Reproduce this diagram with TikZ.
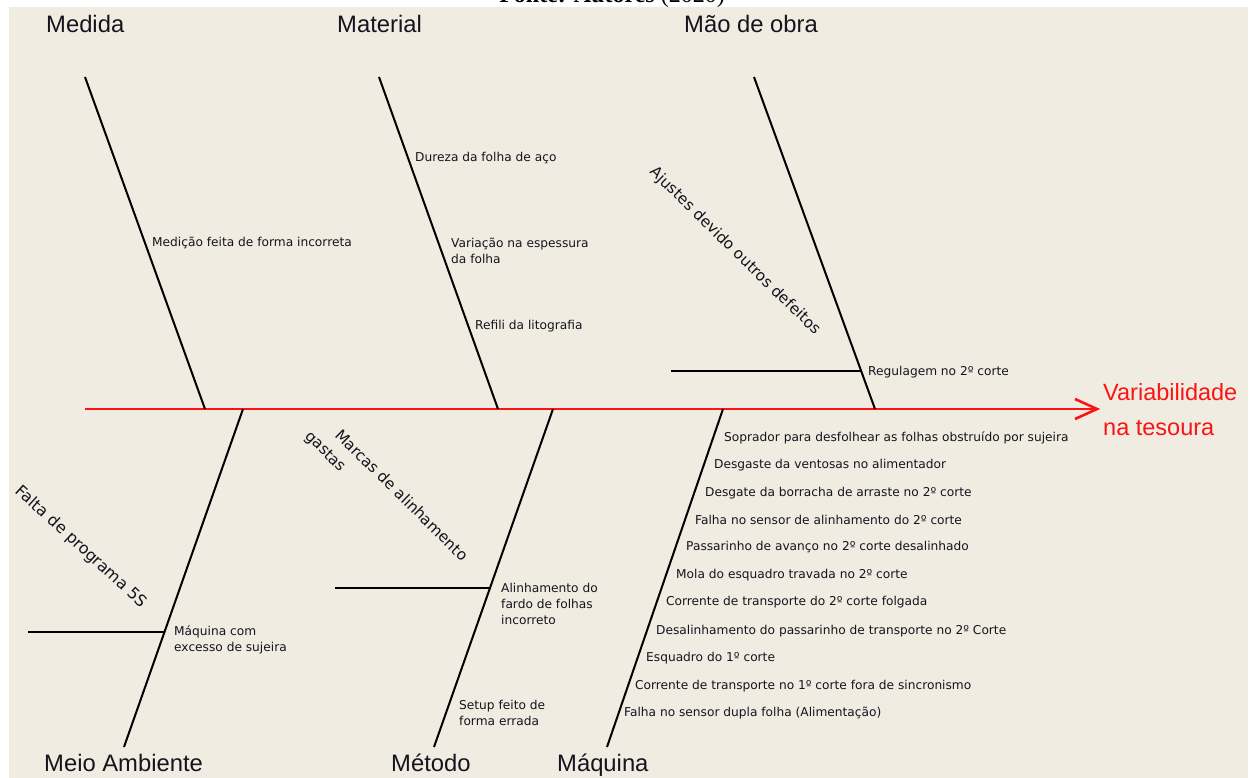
\documentclass[tikz,border=0pt]{standalone}
\usepackage{fontspec}
\setmainfont{DejaVu Sans}
\newfontfamily\serifx{Liberation Serif}
\newfontfamily\headfont{Liberation Sans}
\definecolor{bgc}{RGB}{240,236,226}
\definecolor{ink}{RGB}{20,20,30}
\definecolor{spinered}{RGB}{250,20,20}
\tikzset{
  bone/.style={line width=2pt, black},
  spine/.style={line width=2.6pt, spinered},
  head/.style={font=\headfont\fontsize{23.8}{28}\selectfont, anchor=base west, inner sep=0, text=ink},
  effect/.style={font=\headfont\fontsize{23.5}{35}\selectfont, anchor=west, inner sep=0, text=spinered, align=left},
  cause/.style={font=\fontsize{12.2}{16}\selectfont, anchor=west, inner sep=0, align=left, text=ink},
  rotcause/.style={font=\fontsize{15.3}{18}\selectfont, inner sep=0, text=ink},
}
\begin{document}
\begin{tikzpicture}[x=1pt,y=-1pt]
\useasboundingbox (0,0) rectangle (1257,778);
\fill[white] (0,0) rectangle (1257,778);
\fill[bgc] (9,7) rectangle (1248,778);
\node[anchor=base, inner sep=0, font=\serifx\fontsize{24}{28}\selectfont] (fonte) at (612,3) {\textbf{Fonte: Autores} (2020)};

% spine
\coordinate (tail) at (85,409);
\coordinate (tip) at (1097,409);
\coordinate (barbA) at (1075,399);
\coordinate (barbB) at (1075,419);
\draw[spine] (tail) -- (tip);
\draw[spine, line join=miter] (barbA) -- (tip) -- (barbB);

% bones
\coordinate (medT) at (85,77);   \coordinate (medB) at (205,409);
\coordinate (matT) at (379,77);  \coordinate (matB) at (498,409);
\coordinate (maoT) at (754,77);  \coordinate (maoB) at (875,409);
\coordinate (meiT) at (243,409); \coordinate (meiB) at (124,747);
\coordinate (metT) at (553,409); \coordinate (metB) at (434,747);
\coordinate (maqT) at (723,409); \coordinate (maqB) at (607,747);
\draw[bone] (medT) -- (medB);
\draw[bone] (matT) -- (matB);
\draw[bone] (maoT) -- (maoB);
\draw[bone] (meiT) -- (meiB);
\draw[bone] (metT) -- (metB);
\draw[bone] (maqT) -- (maqB);

% sub-branches
\coordinate (regL) at (671,371); \coordinate (regR) at (861,371);
\coordinate (falL) at (28,632);  \coordinate (falR) at (165,632);
\coordinate (marL) at (335,588); \coordinate (marR) at (490,588);
\draw[bone] (regL) -- (regR);
\draw[bone] (falL) -- (falR);
\draw[bone] (marL) -- (marR);

% headings
\node[head] (hMed) at (46,32.5) {Medida};
\node[head] (hMat) at (337,32.5) {Material};
\node[head] (hMao) at (684,32.5) {Mão de obra};
\node[head] (hMei) at (44,771.5) {Meio Ambiente};
\node[head] (hMet) at (391,771.5) {Método};
\node[head] (hMaq) at (557,771.5) {Máquina};
\node[effect] (eff) at (1103,409.5) {Variabilidade\\na tesoura};

% causes
\node[cause] (c1) at (152,243) {Medição feita de forma incorreta};
\node[cause] (c2) at (415,158) {Dureza da folha de aço};
\node[cause] (c3) at (451,250.5) {Variação na espessura\\da folha};
\node[cause] (c4) at (475,326) {Refili da litografia};
\node[cause] (c5) at (868,372) {Regulagem no 2º corte};
\node[cause] (c6) at (174,640) {Máquina com\\excesso de sujeira};
\node[cause] (c7) at (501,604) {Alinhamento do\\fardo de folhas\\incorreto};
\node[cause] (c8) at (459,713) {Setup feito de\\forma errada};

\node[cause] (m1) at (724,438) {Soprador para desfolhear as folhas obstruído por sujeira};
\node[cause] (m2) at (714,465) {Desgaste da ventosas no alimentador};
\node[cause] (m3) at (705,493) {Desgate da borracha de arraste no 2º corte};
\node[cause] (m4) at (695,520) {Falha no sensor de alinhamento do 2º corte};
\node[cause] (m5) at (686,547) {Passarinho de avanço no 2º corte desalinhado};
\node[cause] (m6) at (676,575) {Mola do esquadro travada no 2º corte};
\node[cause] (m7) at (666,602) {Corrente de transporte do 2º corte folgada};
\node[cause] (m8) at (656,631) {Desalinhamento do passarinho de transporte no 2º Corte};
\node[cause] (m9) at (646,658) {Esquadro do 1º corte};
\node[cause] (m10) at (635,686) {Corrente de transporte no 1º corte fora de sincronismo};
\node[cause] (m11) at (624,713) {Falha no sensor dupla folha (Alimentação)};

% rotated causes
\node[rotcause, rotate=-44.5] (r1) at (735,251) {Ajustes devido outros defeitos};
\node[rotcause, rotate=-42.5, font=\fontsize{16}{18}\selectfont] (r2) at (81,547) {Falta de programa 5S};
\node[rotcause, rotate=-44.6] (r3) at (402,495) {Marcas de alinhamento};
\node[rotcause, rotate=-44.6] (r4) at (325,452) {gastas};
\end{tikzpicture}
\end{document}
